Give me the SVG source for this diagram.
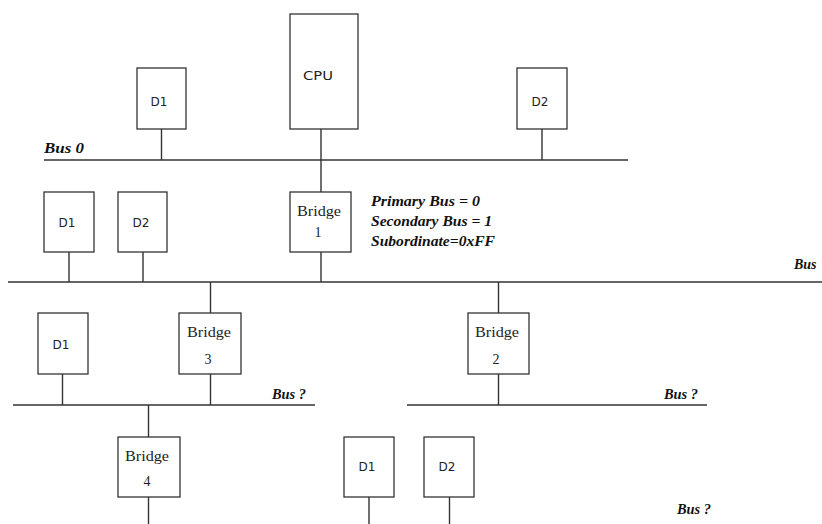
<svg xmlns="http://www.w3.org/2000/svg" width="822" height="524" viewBox="0 0 822 524">
<style>
.box{fill:#fff;stroke:#333;stroke-width:1.3}
.ln{stroke:#333;stroke-width:1.4;fill:none}
.dev{font-family:"DejaVu Sans","Liberation Sans",sans-serif;font-size:12px;fill:#222;text-anchor:middle}
.br{font-family:"Liberation Serif","DejaVu Serif",serif;font-size:14px;fill:#222;text-anchor:middle}
.bus{font-family:"Liberation Serif","DejaVu Serif",serif;font-size:14px;font-style:italic;font-weight:bold;fill:#111}
.note{font-family:"Liberation Serif","DejaVu Serif",serif;font-size:14px;font-style:italic;font-weight:bold;fill:#111}
</style>
<rect width="822" height="524" fill="#fff"/>
<g id="connectors">
<line class="ln" x1="44" y1="160" x2="628" y2="160"/>
<line class="ln" x1="8" y1="282" x2="822" y2="282"/>
<line class="ln" x1="13" y1="405" x2="315" y2="405"/>
<line class="ln" x1="407" y1="405" x2="707" y2="405"/>
<line class="ln" x1="161.5" y1="129" x2="161.5" y2="160"/>
<line class="ln" x1="321" y1="129" x2="321" y2="192"/>
<line class="ln" x1="542" y1="129" x2="542" y2="160"/>
<line class="ln" x1="69" y1="252" x2="69" y2="282"/>
<line class="ln" x1="143" y1="252" x2="143" y2="282"/>
<line class="ln" x1="321" y1="252" x2="321" y2="282"/>
<line class="ln" x1="210.5" y1="282" x2="210.5" y2="313"/>
<line class="ln" x1="210.5" y1="374" x2="210.5" y2="405"/>
<line class="ln" x1="498.5" y1="282" x2="498.5" y2="313"/>
<line class="ln" x1="498.5" y1="374" x2="498.5" y2="405"/>
<line class="ln" x1="62.5" y1="374" x2="62.5" y2="405"/>
<line class="ln" x1="148.5" y1="405" x2="148.5" y2="437"/>
<line class="ln" x1="148.5" y1="497" x2="148.5" y2="524"/>
<line class="ln" x1="369" y1="497" x2="369" y2="524"/>
<line class="ln" x1="449.5" y1="497" x2="449.5" y2="524"/>
</g>
<g id="bus-labels">
<text class="bus" x="44" y="153" textLength="40" lengthAdjust="spacingAndGlyphs">Bus 0</text>
<text class="bus" x="794" y="269">Bus</text>
<text class="bus" x="272" y="399" textLength="34" lengthAdjust="spacingAndGlyphs">Bus ?</text>
<text class="bus" x="664" y="399" textLength="34" lengthAdjust="spacingAndGlyphs">Bus ?</text>
<text class="bus" x="677" y="514" textLength="34" lengthAdjust="spacingAndGlyphs">Bus ?</text>
</g>
<g id="note">
<text class="note" x="371" y="206" textLength="109" lengthAdjust="spacingAndGlyphs">Primary Bus = 0</text>
<text class="note" x="371" y="226" textLength="121" lengthAdjust="spacingAndGlyphs">Secondary Bus = 1</text>
<text class="note" x="371" y="246" textLength="124" lengthAdjust="spacingAndGlyphs">Subordinate=0xFF</text>
</g>
<g id="d1-top"><rect class="box" x="137" y="68" width="49" height="61"/><text class="dev" x="159" y="106">D1</text></g>
<g id="cpu"><rect class="box" x="290" y="14" width="68" height="115"/><text class="dev" x="318" y="80" textLength="30" lengthAdjust="spacingAndGlyphs">CPU</text></g>
<g id="d2-top"><rect class="box" x="517" y="68" width="50" height="61"/><text class="dev" x="540" y="106">D2</text></g>
<g id="d1-bus1"><rect class="box" x="44" y="192" width="50" height="60"/><text class="dev" x="67" y="227">D1</text></g>
<g id="d2-bus1"><rect class="box" x="118" y="192" width="49" height="60"/><text class="dev" x="141" y="227">D2</text></g>
<g id="bridge1"><rect class="box" x="290" y="192" width="61" height="60"/><text class="br" x="319" y="216" textLength="44" lengthAdjust="spacingAndGlyphs">Bridge</text><text class="br" x="318" y="237">1</text></g>
<g id="d1-row3"><rect class="box" x="38" y="313" width="50" height="61"/><text class="dev" x="61" y="349">D1</text></g>
<g id="bridge3"><rect class="box" x="179" y="313" width="62" height="61"/><text class="br" x="209" y="337" textLength="44" lengthAdjust="spacingAndGlyphs">Bridge</text><text class="br" x="208" y="364">3</text></g>
<g id="bridge2"><rect class="box" x="468" y="313" width="61" height="61"/><text class="br" x="497" y="337" textLength="44" lengthAdjust="spacingAndGlyphs">Bridge</text><text class="br" x="496" y="364">2</text></g>
<g id="bridge4"><rect class="box" x="118" y="437" width="62" height="60"/><text class="br" x="147" y="461" textLength="44" lengthAdjust="spacingAndGlyphs">Bridge</text><text class="br" x="147" y="486">4</text></g>
<g id="d1-row4"><rect class="box" x="344" y="437" width="50" height="60"/><text class="dev" x="367" y="471">D1</text></g>
<g id="d2-row4"><rect class="box" x="424" y="437" width="50" height="60"/><text class="dev" x="447" y="471">D2</text></g>
</svg>
